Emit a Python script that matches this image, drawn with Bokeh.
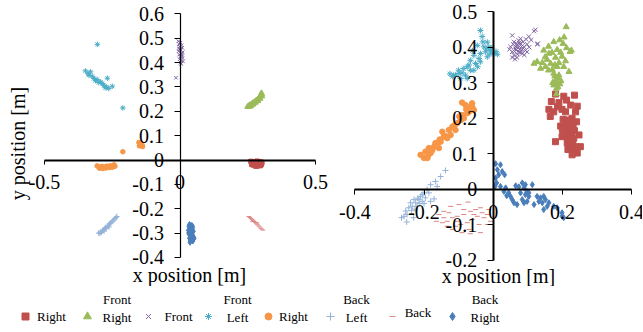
import math
from bokeh.plotting import figure
from bokeh.models import Range1d, FixedTicker, LinearAxis, Label, CustomJSTickFormatter
from bokeh.layouts import column, row
from bokeh.embed import file_html
from bokeh.resources import INLINE
from bokeh.core.properties import value

FONT = "Liberation Serif"
QFONT = "'Liberation Serif'"

# ---------------- data ----------------
series_names = ["Right", "Front Right", "Front", "Front Left", "Right", "Back Left", "Back", "Back Right"]
series_markers = ["square", "triangle", "x", "asterisk", "circle", "cross", "dash", "diamond"]
series_colors = ["#C0504D", "#9BBB59", "#8064A2", "#4BACC6", "#F79646", "#95B3D7", "#DA8683", "#4A7EBB"]

left_ticks_x = [-0.5, 0, 0.5]
left_labels_x = ["-0.5", "0", "0.5"]
left_ticks_y = [-0.4, -0.3, -0.2, -0.1, 0, 0.1, 0.2, 0.3, 0.4, 0.5, 0.6]
left_labels_y = ["-0.4", "-0.3", "-0.2", "-0.1", "0", "0.1", "0.2", "0.3", "0.4", "0.5", "0.6"]
right_ticks_x = [-0.4, -0.2, 0, 0.2, 0.4]
right_labels_x = ["-0.4", "-0.2", "0", "0.2", "0.4"]
right_ticks_y = [-0.2, -0.1, 0, 0.1, 0.2, 0.3, 0.4, 0.5]
right_labels_y = ["-0.2", "-0.1", "0", "0.1", "0.2", "0.3", "0.4", "0.5"]
x_title = "x position [m]"
y_title = "y position [m]"

# left panel (x, y) points per series
L_right = [(0.262,-0.006),(0.268,-0.010),(0.272,-0.008),(0.275,-0.014),(0.279,-0.012),(0.283,-0.009),(0.286,-0.016),
           (0.290,-0.011),(0.294,-0.007),(0.298,-0.013),(0.302,-0.010),(0.265,-0.018),(0.270,-0.020),(0.277,-0.022),
           (0.281,-0.017),(0.285,-0.024),(0.289,-0.019),(0.293,-0.021),(0.297,-0.016),(0.300,-0.018),(0.271,-0.015),
           (0.280,-0.025),(0.288,-0.013),(0.296,-0.023),(0.284,-0.005)]
L_front_right = [(0.249,0.219),(0.253,0.222),(0.257,0.226),(0.260,0.224),(0.263,0.229),(0.266,0.231),(0.269,0.235),
                 (0.272,0.233),(0.275,0.239),(0.278,0.241),(0.281,0.244),(0.284,0.246),(0.287,0.250),(0.290,0.253),
                 (0.293,0.257),(0.296,0.261),(0.299,0.266),(0.302,0.272),(0.255,0.219),(0.262,0.221),(0.270,0.228),
                 (0.279,0.236),(0.288,0.243),(0.296,0.252),(0.303,0.262),(0.300,0.275)]
L_front = [(-0.006,0.488),(0.002,0.482),(-0.004,0.476),(0.006,0.471),(-0.002,0.466),(0.008,0.461),(0.000,0.456),
           (0.004,0.452),(-0.005,0.447),(0.010,0.443),(0.003,0.438),(-0.003,0.433),(0.007,0.428),(0.001,0.424),
           (0.009,0.419),(-0.001,0.414),(0.005,0.410),(0.011,0.405),(0.002,0.400),(-0.004,0.458),(0.006,0.435),
           (0.004,0.395),(-0.015,0.338)]
L_front_left = [(-0.349,0.366),(-0.330,0.362),(-0.336,0.348),(-0.324,0.344),(-0.318,0.335),(-0.306,0.331),(-0.293,0.321),
                (-0.287,0.314),(-0.281,0.307),(-0.271,0.300),(-0.263,0.294),(-0.250,0.303),(-0.340,0.356),(-0.312,0.326),
                (-0.300,0.318),(-0.276,0.297),(-0.305,0.475),(-0.268,0.336),(-0.211,0.214)]
L_right2 = [(-0.306,-0.024),(-0.300,-0.028),(-0.294,-0.030),(-0.288,-0.026),(-0.282,-0.031),(-0.276,-0.028),(-0.270,-0.025),
            (-0.264,-0.029),(-0.258,-0.024),(-0.252,-0.027),(-0.246,-0.022),(-0.240,-0.026),(-0.297,-0.034),(-0.285,-0.035),
            (-0.273,-0.033),(-0.261,-0.031),(-0.249,-0.030),(-0.243,-0.020),(-0.152,0.072),(-0.146,0.066),(-0.140,0.062),
            (-0.150,0.058),(-0.138,0.055),(-0.144,0.070),(-0.211,0.034)]
L_back_left = [(-0.300,-0.300),(-0.294,-0.296),(-0.290,-0.298),(-0.286,-0.290),(-0.282,-0.287),(-0.278,-0.283),(-0.275,-0.278),
               (-0.272,-0.281),(-0.268,-0.272),(-0.264,-0.268),(-0.260,-0.262),(-0.256,-0.259),(-0.252,-0.255),(-0.248,-0.250),
               (-0.244,-0.246),(-0.240,-0.241),(-0.236,-0.236),(-0.233,-0.232),(-0.296,-0.302),(-0.280,-0.292),(-0.262,-0.275)]
L_back = [(0.254,-0.232),(0.258,-0.236),(0.262,-0.240),(0.266,-0.245),(0.270,-0.248),(0.274,-0.253),(0.278,-0.257),
          (0.282,-0.262),(0.286,-0.266),(0.290,-0.271),(0.294,-0.275),(0.298,-0.280),(0.302,-0.284),(0.306,-0.288),
          (0.268,-0.252),(0.284,-0.258)]
L_back_right = [(0.035,-0.265),(0.041,-0.269),(0.033,-0.273),(0.047,-0.277),(0.038,-0.281),(0.044,-0.285),(0.031,-0.289),
                (0.049,-0.293),(0.036,-0.297),(0.042,-0.301),(0.034,-0.305),(0.046,-0.309),(0.039,-0.313),(0.050,-0.317),
                (0.035,-0.321),(0.044,-0.325),(0.038,-0.329),(0.047,-0.333),(0.032,-0.300),(0.041,-0.287),(0.052,-0.322),
                (0.037,-0.338),(0.045,-0.270),(0.040,-0.316)]

# right panel (x, y) points per series
R_right = [(0.180,0.268),(0.204,0.262),(0.235,0.265),(0.168,0.247),(0.190,0.244),(0.212,0.251),(0.224,0.237),(0.243,0.234),
           (0.161,0.225),(0.175,0.218),(0.199,0.225),(0.209,0.218),(0.238,0.218),(0.202,0.197),(0.214,0.195),(0.228,0.200),
           (0.241,0.190),(0.195,0.178),(0.209,0.176),(0.219,0.181),(0.231,0.175),(0.248,0.153),(0.199,0.148),(0.214,0.150),
           (0.224,0.158),(0.233,0.144),(0.180,0.134),(0.214,0.130),(0.228,0.134),(0.238,0.120),(0.252,0.120),(0.231,0.106),
           (0.243,0.102),(0.228,0.097),(0.215,0.165),(0.222,0.170),(0.205,0.160),(0.226,0.150),(0.218,0.142),(0.235,0.165),
           (0.210,0.185),(0.200,0.168),(0.230,0.128),(0.222,0.120),(0.165,0.205),(0.186,0.232),(0.226,0.188),(0.216,0.112)]
R_front_right = [(0.211,0.457),(0.175,0.415),(0.202,0.410),(0.222,0.387),(0.146,0.391),(0.161,0.382),(0.185,0.393),
                 (0.199,0.374),(0.156,0.365),(0.180,0.371),(0.209,0.361),(0.127,0.359),(0.142,0.356),(0.166,0.354),
                 (0.190,0.356),(0.137,0.340),(0.151,0.345),(0.171,0.337),(0.185,0.345),(0.204,0.345),(0.175,0.326),
                 (0.190,0.321),(0.180,0.307),(0.185,0.298),(0.175,0.293),(0.193,0.296),(0.183,0.284),(0.183,0.268),
                 (0.219,0.331),(0.226,0.391),(0.118,0.354),(0.160,0.402),(0.192,0.420),(0.205,0.428),(0.170,0.385),
                 (0.195,0.385),(0.178,0.350),(0.160,0.335),(0.188,0.312),(0.178,0.318),(0.196,0.305),(0.172,0.300),
                 (0.187,0.288),(0.150,0.372),(0.212,0.398)]
R_front = [(0.055,0.433),(0.122,0.449),(0.095,0.422),(0.127,0.408),(0.098,0.408),(0.060,0.415),(0.069,0.405),(0.079,0.410),
           (0.065,0.396),(0.055,0.387),(0.074,0.387),(0.084,0.393),(0.089,0.401),(0.093,0.391),(0.060,0.377),(0.069,0.371),
           (0.084,0.382),(0.050,0.401),(0.074,0.419),(0.103,0.430),(0.079,0.424),(0.055,0.371),(0.129,0.410),(0.098,0.387),
           (0.118,0.445),(0.064,0.402),(0.072,0.398),(0.077,0.394),(0.068,0.410),(0.082,0.402),(0.062,0.388),(0.070,0.380),
           (0.086,0.415),(0.058,0.408),(0.075,0.412),(0.080,0.385),(0.066,0.392),(0.090,0.378),(0.047,0.394),(0.110,0.420),
           (0.104,0.400),(0.063,0.366)]
R_front_left = [(-0.037,0.447),(-0.032,0.430),(-0.017,0.414),(-0.027,0.401),(-0.008,0.391),(-0.022,0.387),(-0.037,0.382),
                (0.002,0.382),(-0.046,0.405),(-0.056,0.377),(-0.041,0.368),(-0.066,0.363),(-0.051,0.354),(-0.075,0.345),
                (-0.066,0.335),(-0.090,0.328),(-0.080,0.321),(-0.099,0.326),(-0.109,0.321),(-0.118,0.318),(-0.094,0.312),
                (-0.075,0.312),(-0.056,0.335),(-0.037,0.359),(-0.017,0.373),(-0.114,0.321),(-0.013,0.400),(0.008,0.388),
                (-0.004,0.398),(-0.030,0.415),(-0.020,0.395),(-0.060,0.390),(-0.085,0.340),(-0.045,0.345),(-0.070,0.350),
                (-0.100,0.335),(-0.125,0.325),(-0.010,0.380),(0.012,0.380)]
R_right2 = [(-0.210,0.097),(-0.196,0.106),(-0.200,0.088),(-0.181,0.102),(-0.186,0.116),(-0.171,0.120),(-0.157,0.116),
            (-0.167,0.130),(-0.152,0.134),(-0.143,0.148),(-0.133,0.144),(-0.147,0.162),(-0.128,0.167),(-0.123,0.153),
            (-0.118,0.176),(-0.109,0.167),(-0.104,0.186),(-0.094,0.195),(-0.090,0.209),(-0.085,0.200),(-0.075,0.214),
            (-0.073,0.228),(-0.066,0.232),(-0.061,0.242),(-0.080,0.237),(-0.070,0.218),(-0.056,0.223),(-0.090,0.244),
            (-0.190,0.088),(-0.176,0.110),(-0.162,0.125),(-0.138,0.150),(-0.112,0.180),(-0.098,0.205),(-0.060,0.230),
            (-0.078,0.225),(-0.186,0.098),(-0.155,0.140)]
R_back_left = [(-0.138,0.053),(-0.152,0.036),(-0.167,0.022),(-0.181,0.013),(-0.191,-0.001),(-0.200,-0.010),(-0.210,-0.020),
               (-0.215,-0.029),(-0.224,-0.038),(-0.234,-0.048),(-0.244,-0.052),(-0.253,-0.061),(-0.258,-0.076),(-0.220,-0.048),
               (-0.205,-0.034),(-0.196,-0.024),(-0.186,-0.010),(-0.229,-0.029),(-0.239,-0.038),(-0.249,-0.071),(-0.181,-0.034),
               (-0.171,-0.027),(-0.162,0.008),(-0.250,-0.092),(-0.230,-0.080),(-0.212,-0.040),(-0.218,-0.025),(-0.205,-0.015),
               (-0.226,-0.056),(-0.236,-0.060),(-0.200,-0.040),(-0.265,-0.080)]
R_back = [(-0.073,-0.036),(-0.099,-0.043),(-0.123,-0.048),(-0.143,-0.062),(-0.128,-0.066),(-0.157,-0.071),(-0.143,-0.080),
          (-0.133,-0.090),(-0.118,-0.080),(-0.104,-0.076),(-0.085,-0.071),(-0.066,-0.062),(-0.051,-0.057),(-0.037,-0.052),
          (-0.017,-0.071),(-0.027,-0.080),(-0.046,-0.076),(-0.061,-0.085),(-0.075,-0.094),(-0.094,-0.099),(-0.109,-0.104),
          (-0.118,-0.113),(-0.066,-0.125),(-0.037,-0.122),(-0.017,-0.099),(-0.008,-0.090),(-0.090,-0.122),(-0.104,-0.090),
          (-0.085,-0.057),(-0.056,-0.071),(-0.032,-0.066),(-0.013,-0.057),(-0.041,-0.099),(-0.070,-0.113),(-0.133,-0.104),
          (-0.147,-0.094),(-0.164,-0.090)]
R_back_right = [(0.007,0.072),(0.021,0.069),(0.012,0.055),(0.026,0.050),(0.033,0.041),(0.016,0.041),(0.007,0.032),
                (0.010,0.018),(0.005,0.008),(0.021,0.008),(0.036,0.004),(0.031,-0.006),(0.045,-0.010),(0.039,-0.018),
                (0.050,-0.020),(0.055,-0.029),(0.060,-0.038),(0.069,-0.043),(0.065,0.010),(0.074,0.007),(0.084,0.018),
                (0.093,0.013),(0.089,0.004),(0.098,-0.006),(0.103,-0.010),(0.113,0.013),(0.103,-0.020),(0.098,-0.034),
                (0.089,-0.038),(0.118,-0.043),(0.127,-0.020),(0.137,-0.024),(0.146,-0.020),(0.132,-0.034),(0.142,-0.038),
                (0.151,-0.029),(0.146,-0.057),(0.156,-0.048),(0.161,-0.038),(0.175,-0.048),(0.185,-0.052),(0.199,-0.066),
                (0.204,-0.080),(0.199,-0.076),(0.079,-0.010),(0.093,-0.015),(0.084,-0.029)]

left_series = [L_right, L_front_right, L_front, L_front_left, L_right2, L_back_left, L_back, L_back_right]
right_series = [R_right, R_front_right, R_front, R_front_left, R_right2, R_back_left, R_back, R_back_right]

# ---------------- styling / layout ----------------
left_sizes = [4.5, 5.5, 5, 5.5, 4.5, 5.5, 4.5, 6]
right_sizes = [6, 6, 6, 6, 5.5, 6, 5, 6]
legend_sizes = [7, 8, 7, 7, 7, 8, 6, 8]

ROW_H = 286
LEFT_W, RIGHT_W = 333, 309
LEG_H = 44


def panel(w, h, xr, yr):
    p = figure(width=w, height=h, x_range=Range1d(*xr), y_range=Range1d(*yr),
               output_backend="svg", toolbar_location=None,
               x_axis_location=None, y_axis_location=None,
               min_border=0, min_border_left=0, min_border_right=0,
               min_border_top=0, min_border_bottom=0,
               outline_line_color=None, background_fill_color="white",
               border_fill_color="white")
    p.grid.visible = False
    return p


def style_axis(ax, lw, tick_out):
    ax.axis_line_width = lw
    ax.axis_line_color = "black"
    ax.major_tick_out = tick_out
    ax.major_tick_in = 0
    ax.minor_tick_out = 0
    ax.minor_tick_in = 0
    ax.major_tick_line_color = "black"
    ax.major_tick_line_width = 1


def add_axes(p, w, h, xr, yr, xt, xl, yt, yl, xlw, ylw, xtick, ytick, xlab_dy, ylab_dx):
    blank = CustomJSTickFormatter(code="return ''")
    xa = LinearAxis(fixed_location=0, bounds=(xt[0], xt[-1]),
                    ticker=FixedTicker(ticks=xt, minor_ticks=[]), formatter=blank)
    style_axis(xa, xlw, xtick)
    p.add_layout(xa, "below")
    ya = LinearAxis(fixed_location=0, bounds=(yt[0], yt[-1]),
                    ticker=FixedTicker(ticks=yt, minor_ticks=[]), formatter=blank)
    style_axis(ya, ylw, ytick)
    p.add_layout(ya, "left")
    # tick labels, placed at the tick values through the panel scales
    y_per_px = (yr[1] - yr[0]) / h
    x_per_px = (xr[1] - xr[0]) / w
    p.text(xt, [-xlab_dy * y_per_px] * len(xt), text=xl, text_font=value(QFONT),
           text_font_size=value("20px"), text_align="center", text_baseline="middle",
           text_color="black")
    p.text([-ylab_dx * x_per_px] * len(yt), yt, text=yl, text_font=value(QFONT),
           text_font_size=value("20px"), text_align="right", text_baseline="middle",
           text_color="black")


def draw_series(p, series, sizes):
    for pts, mk, col, sz in zip(series, series_markers, series_colors, sizes):
        xs = [a for a, b in pts]
        ys = [b for a, b in pts]
        p.scatter(xs, ys, marker=mk, size=sz, fill_color=col, line_color=col, line_width=1)


def at(xr, yr, w, h, px, py):
    return xr[0] + px / w * (xr[1] - xr[0]), yr[1] - py / h * (yr[1] - yr[0])


# left panel
lxr = (-0.6624, 0.5664)
lyr = (-0.5197, 0.6553)
p1 = panel(LEFT_W, ROW_H, lxr, lyr)
draw_series(p1, left_series, left_sizes)
add_axes(p1, LEFT_W, ROW_H, lxr, lyr, left_ticks_x, left_labels_x, left_ticks_y, left_labels_y,
         2, 1.2, 4, 6, 22, 16)
tx, ty = at(lxr, lyr, LEFT_W, ROW_H, 189, 274)
p1.add_layout(Label(x=tx, y=ty, text=x_title, text_font=FONT, text_font_size="20px",
                    text_align="center", text_baseline="middle", text_color="black"))
tx, ty = at(lxr, lyr, LEFT_W, ROW_H, 17.5, 143)
p1.add_layout(Label(x=tx, y=ty, text=y_title, text_font=FONT, text_font_size="20px",
                    text_align="center", text_baseline="middle", text_color="black",
                    angle=math.pi / 2, angle_units="rad"))

# right panel
rxr = (-0.4617, 0.4316)
ryr = (-0.2736, 0.5314)
p2 = panel(RIGHT_W, ROW_H, rxr, ryr)
draw_series(p2, right_series, right_sizes)
add_axes(p2, RIGHT_W, ROW_H, rxr, ryr, right_ticks_x, right_labels_x, right_ticks_y, right_labels_y,
         2, 2, 5, 6, 23, 16)
tx, ty = at(rxr, ryr, RIGHT_W, ROW_H, 165, 275)
p2.add_layout(Label(x=tx, y=ty, text=x_title, text_font=FONT, text_font_size="20px",
                    text_align="center", text_baseline="middle", text_color="black"))

# legend strip
TOTAL_W = LEFT_W + RIGHT_W
pl = figure(width=TOTAL_W, height=LEG_H, x_range=Range1d(0, TOTAL_W), y_range=Range1d(LEG_H, 0),
            output_backend="svg", toolbar_location=None,
            x_axis_location=None, y_axis_location=None,
            min_border=0, min_border_left=0, min_border_right=0,
            min_border_top=0, min_border_bottom=0,
            outline_line_color=None, border_fill_color="white")
pl.grid.visible = False
marker_x = [25, 87, 148, 208, 268, 330, 392, 452]
label_cx = [51, 116.5, 178, 237, 293, 356, 417.5, 484.5]
pl.scatter(marker_x, [30] * 8, marker=series_markers, size=legend_sizes,
           fill_color=series_colors, line_color=series_colors, line_width=1)
tx_, ty_, tt_ = [], [], []
for name, cx in zip(series_names, label_cx):
    parts = name.split(" ")
    if len(parts) == 2:
        tx_ += [cx, cx]
        ty_ += [13, 31]
        tt_ += parts
    else:
        tx_.append(cx)
        ty_.append(26 if name == "Back" else 30)
        tt_.append(name)
pl.text(tx_, ty_, text=tt_, text_font=value(QFONT), text_font_size=value("13px"),
        text_align="center", text_baseline="middle", text_color="black")

layout = column(row(p1, p2), pl)
open("out.html", "w").write(file_html(layout, INLINE))
